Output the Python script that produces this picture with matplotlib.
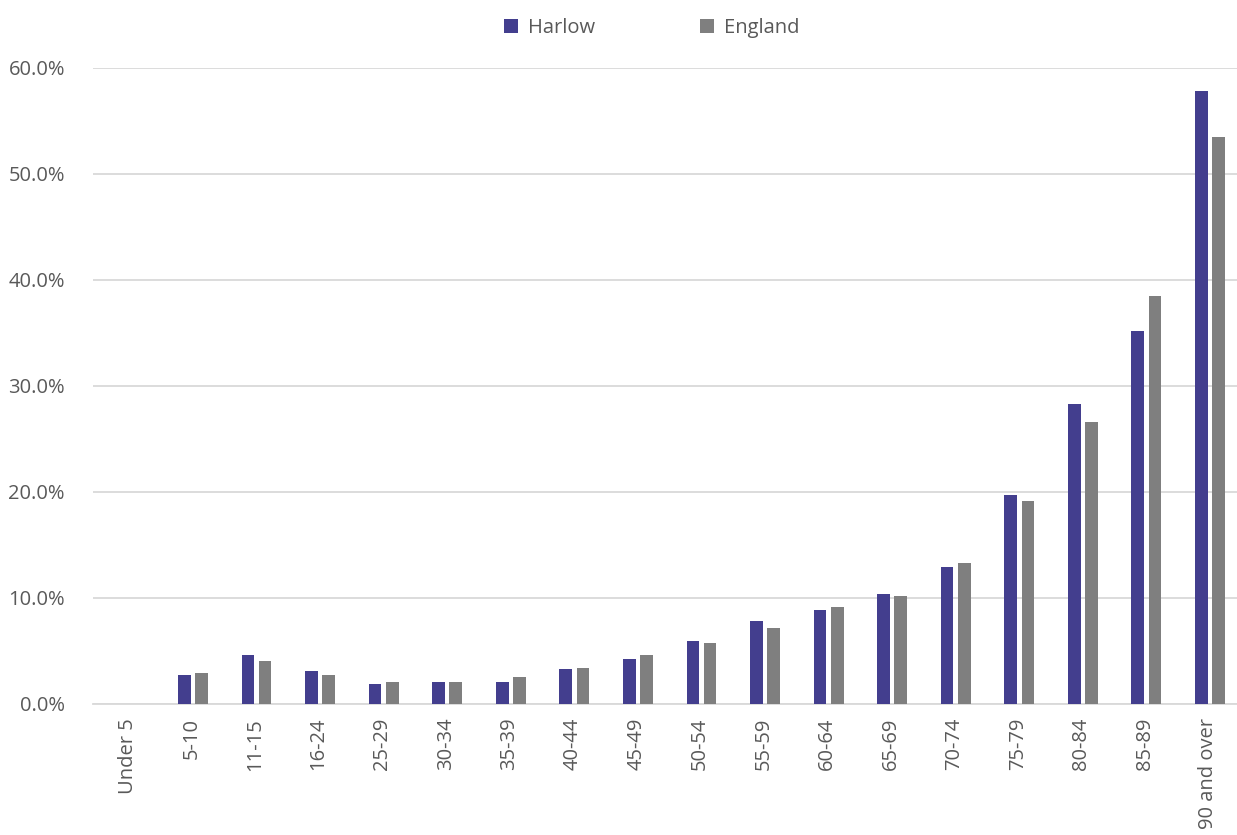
import numpy as np
import matplotlib.pyplot as plt
from matplotlib.ticker import PercentFormatter

age_groups = ["Under 5", "5-10", "11-15", "16-24", "25-29", "30-34", "35-39",
              "40-44", "45-49", "50-54", "55-59", "60-64", "65-69", "70-74",
              "75-79", "80-84", "85-89", "90 and over"]
harlow = [0.0, 2.7, 4.6, 3.1, 1.9, 2.1, 2.1, 3.3, 4.2, 5.9, 7.8, 8.9, 10.4,
          12.9, 19.7, 28.3, 35.2, 57.8]
england = [0.0, 2.9, 4.0, 2.7, 2.1, 2.1, 2.5, 3.4, 4.6, 5.7, 7.2, 9.1, 10.2,
           13.3, 19.1, 26.6, 38.5, 53.5]

plt.rcParams['font.family'] = ['Open Sans', 'DejaVu Sans']
txt = '#595959'

fig = plt.figure(figsize=(12.37, 8.35), dpi=100)
ax = fig.add_axes([0.075, 0.157, 0.925, 0.762])

x = np.arange(len(age_groups))
w = 0.2
ax.bar(x - 0.11, harlow, w, color='#433E8E', label='Harlow', zorder=3)
ax.bar(x + 0.16, england, w, color='#7F7F7F', label='England', zorder=3)

ax.set_xlim(-0.55, len(age_groups) - 0.55)
ax.set_ylim(0, 60)
ax.set_yticks(np.arange(0, 61, 10))
ax.yaxis.set_major_formatter(PercentFormatter(decimals=1))
ax.grid(axis='y', color='#D9D9D9', linewidth=1.3, zorder=0)
ax.set_xticks(x)
ax.set_xticklabels(age_groups, rotation=90)
ax.tick_params(length=0, labelsize=14.5, colors=txt)
ax.tick_params(axis='y', pad=20)
ax.tick_params(axis='x', pad=10)
for s in ['top', 'right', 'left']:
    ax.spines[s].set_visible(False)
ax.spines['bottom'].set_color('#D9D9D9')
ax.spines['bottom'].set_linewidth(1.3)

leg = fig.legend(loc='upper center', bbox_to_anchor=(0.527, 1.0), ncol=2,
                 frameon=False, fontsize=14.5, handlelength=0.7, handleheight=0.7,
                 columnspacing=5.2, handletextpad=0.5)
for t in leg.get_texts():
    t.set_color(txt)

fig.savefig('out.png', dpi=100)
